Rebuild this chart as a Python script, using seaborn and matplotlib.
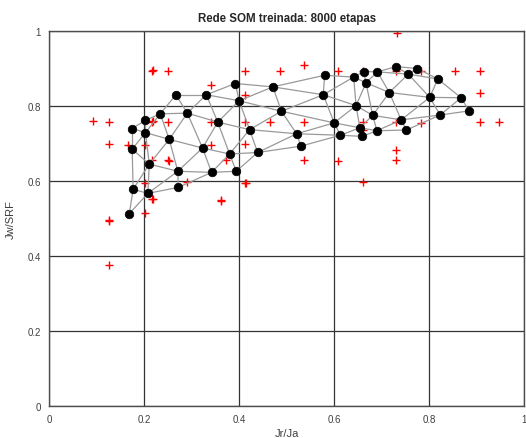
import numpy as np
import pandas as pd
import matplotlib
matplotlib.use('Agg')
import matplotlib.pyplot as plt
import seaborn as sns
from matplotlib.ticker import FuncFormatter

# Dados de entrada (pontos vermelhos)
dados_x = [0.732, 0.537,
           0.217, 0.219, 0.250, 0.413, 0.485, 0.608, 0.660, 0.731, 0.782, 0.855, 0.907,
           0.340, 0.907, 0.413,
           0.093, 0.126, 0.217, 0.219, 0.250, 0.340, 0.413, 0.464, 0.537, 0.660, 0.731, 0.782, 0.907, 0.947,
           0.660,
           0.126, 0.166, 0.203, 0.340, 0.413,
           0.731,
           0.217, 0.250, 0.252, 0.373, 0.537, 0.608, 0.731,
           0.203, 0.290, 0.413, 0.414, 0.660,
           0.217, 0.218, 0.361, 0.362,
           0.203, 0.126, 0.127, 0.126]
dados_y = [0.996, 0.909,
           0.893, 0.895, 0.893, 0.893, 0.893, 0.893, 0.893, 0.893, 0.893, 0.893, 0.893,
           0.857, 0.834, 0.830,
           0.760, 0.757, 0.757, 0.759, 0.757, 0.757, 0.757, 0.758, 0.757, 0.758, 0.758, 0.755, 0.758, 0.758,
           0.735,
           0.698, 0.697, 0.697, 0.697, 0.700,
           0.683,
           0.656, 0.655, 0.653, 0.655, 0.656, 0.654, 0.655,
           0.595, 0.597, 0.596, 0.594, 0.597,
           0.553, 0.551, 0.549, 0.547,
           0.515, 0.493, 0.495, 0.375]

# Neuronios da rede SOM (grade hexagonal 13 x 4), linha 0 = base
som_x = [
    [0.169, 0.208, 0.272, 0.342, 0.394, 0.439, 0.530, 0.613, 0.658, 0.690, 0.752, 0.823, 0.884],
    [0.177, 0.211, 0.271, 0.323, 0.380, 0.422, 0.521, 0.600, 0.654, 0.681, 0.741, 0.801, 0.867],
    [0.175, 0.203, 0.253, 0.291, 0.355, 0.400, 0.489, 0.577, 0.646, 0.667, 0.716, 0.756, 0.818],
    [0.175, 0.203, 0.234, 0.267, 0.331, 0.392, 0.471, 0.580, 0.641, 0.662, 0.691, 0.730, 0.775],
]
som_y = [
    [0.513, 0.567, 0.583, 0.623, 0.626, 0.676, 0.693, 0.722, 0.719, 0.734, 0.736, 0.776, 0.787],
    [0.578, 0.645, 0.626, 0.688, 0.672, 0.737, 0.726, 0.755, 0.742, 0.775, 0.763, 0.823, 0.822],
    [0.685, 0.729, 0.711, 0.781, 0.757, 0.814, 0.786, 0.830, 0.801, 0.862, 0.836, 0.885, 0.872],
    [0.740, 0.762, 0.779, 0.830, 0.830, 0.860, 0.851, 0.882, 0.877, 0.892, 0.891, 0.905, 0.900],
]
n_lin = len(som_x)
n_col = len(som_x[0])

# Ligacoes entre vizinhos (topologia hexagonal)
arestas = []
for i in range(n_col):
    for j in range(n_lin):
        viz = []
        if j + 1 < n_lin:
            viz.append((i, j + 1))
        if i + 1 < n_col:
            for jj in ((j - 1, j) if i % 2 == 0 else (j, j + 1)):
                if 0 <= jj < n_lin:
                    viz.append((i + 1, jj))
        for (i2, j2) in viz:
            k = len(arestas)
            arestas.append({'id': k, 'x': som_x[j][i], 'y': som_y[j][i]})
            arestas.append({'id': k, 'x': som_x[j2][i2], 'y': som_y[j2][i2]})
df_arestas = pd.DataFrame(arestas)

df_dados = pd.DataFrame({'x': dados_x, 'y': dados_y})
df_som = pd.DataFrame({'x': np.ravel(som_x), 'y': np.ravel(som_y)})

sns.set_theme(style='whitegrid', rc={
    'grid.color': '0.2',
    'grid.linewidth': 0.9,
    'axes.edgecolor': '0.3',
    'axes.linewidth': 1.0,
})
plt.rcParams['font.family'] = ['Liberation Sans', 'DejaVu Sans']

fig = plt.figure(figsize=(5.26, 4.39), dpi=100)
ax = fig.add_axes([49 / 526, 32 / 439, 475.3 / 526, 375 / 439])

sns.scatterplot(data=df_dados, x='x', y='y', marker='+', color='red',
                s=40, linewidth=1.0, ax=ax, zorder=2)
sns.lineplot(data=df_arestas, x='x', y='y', units='id', estimator=None,
             sort=False, color='#999999', linewidth=0.9, ax=ax, zorder=3)
sns.scatterplot(data=df_som, x='x', y='y', color='black', s=38,
                edgecolor='black', linewidth=0.5, ax=ax, zorder=4)

ax.set_xlim(0, 1)
ax.set_ylim(0, 1)
ax.set_xticks([0, 0.2, 0.4, 0.6, 0.8, 1])
ax.set_yticks([0, 0.2, 0.4, 0.6, 0.8, 1])
fmt = FuncFormatter(lambda v, p: '%g' % v)
ax.xaxis.set_major_formatter(fmt)
ax.yaxis.set_major_formatter(fmt)
ax.tick_params(length=0, labelsize=7, pad=6, colors='0.25')
ax.set_xlabel('Jr/Ja', fontsize=8, labelpad=3, color='0.25')
ax.set_ylabel('Jw/SRF', fontsize=8, labelpad=8, color='0.25')
ax.set_title('Rede SOM treinada: 8000 etapas', fontsize=8.3, fontweight='bold', pad=7)

fig.savefig('out.png', dpi=100)
